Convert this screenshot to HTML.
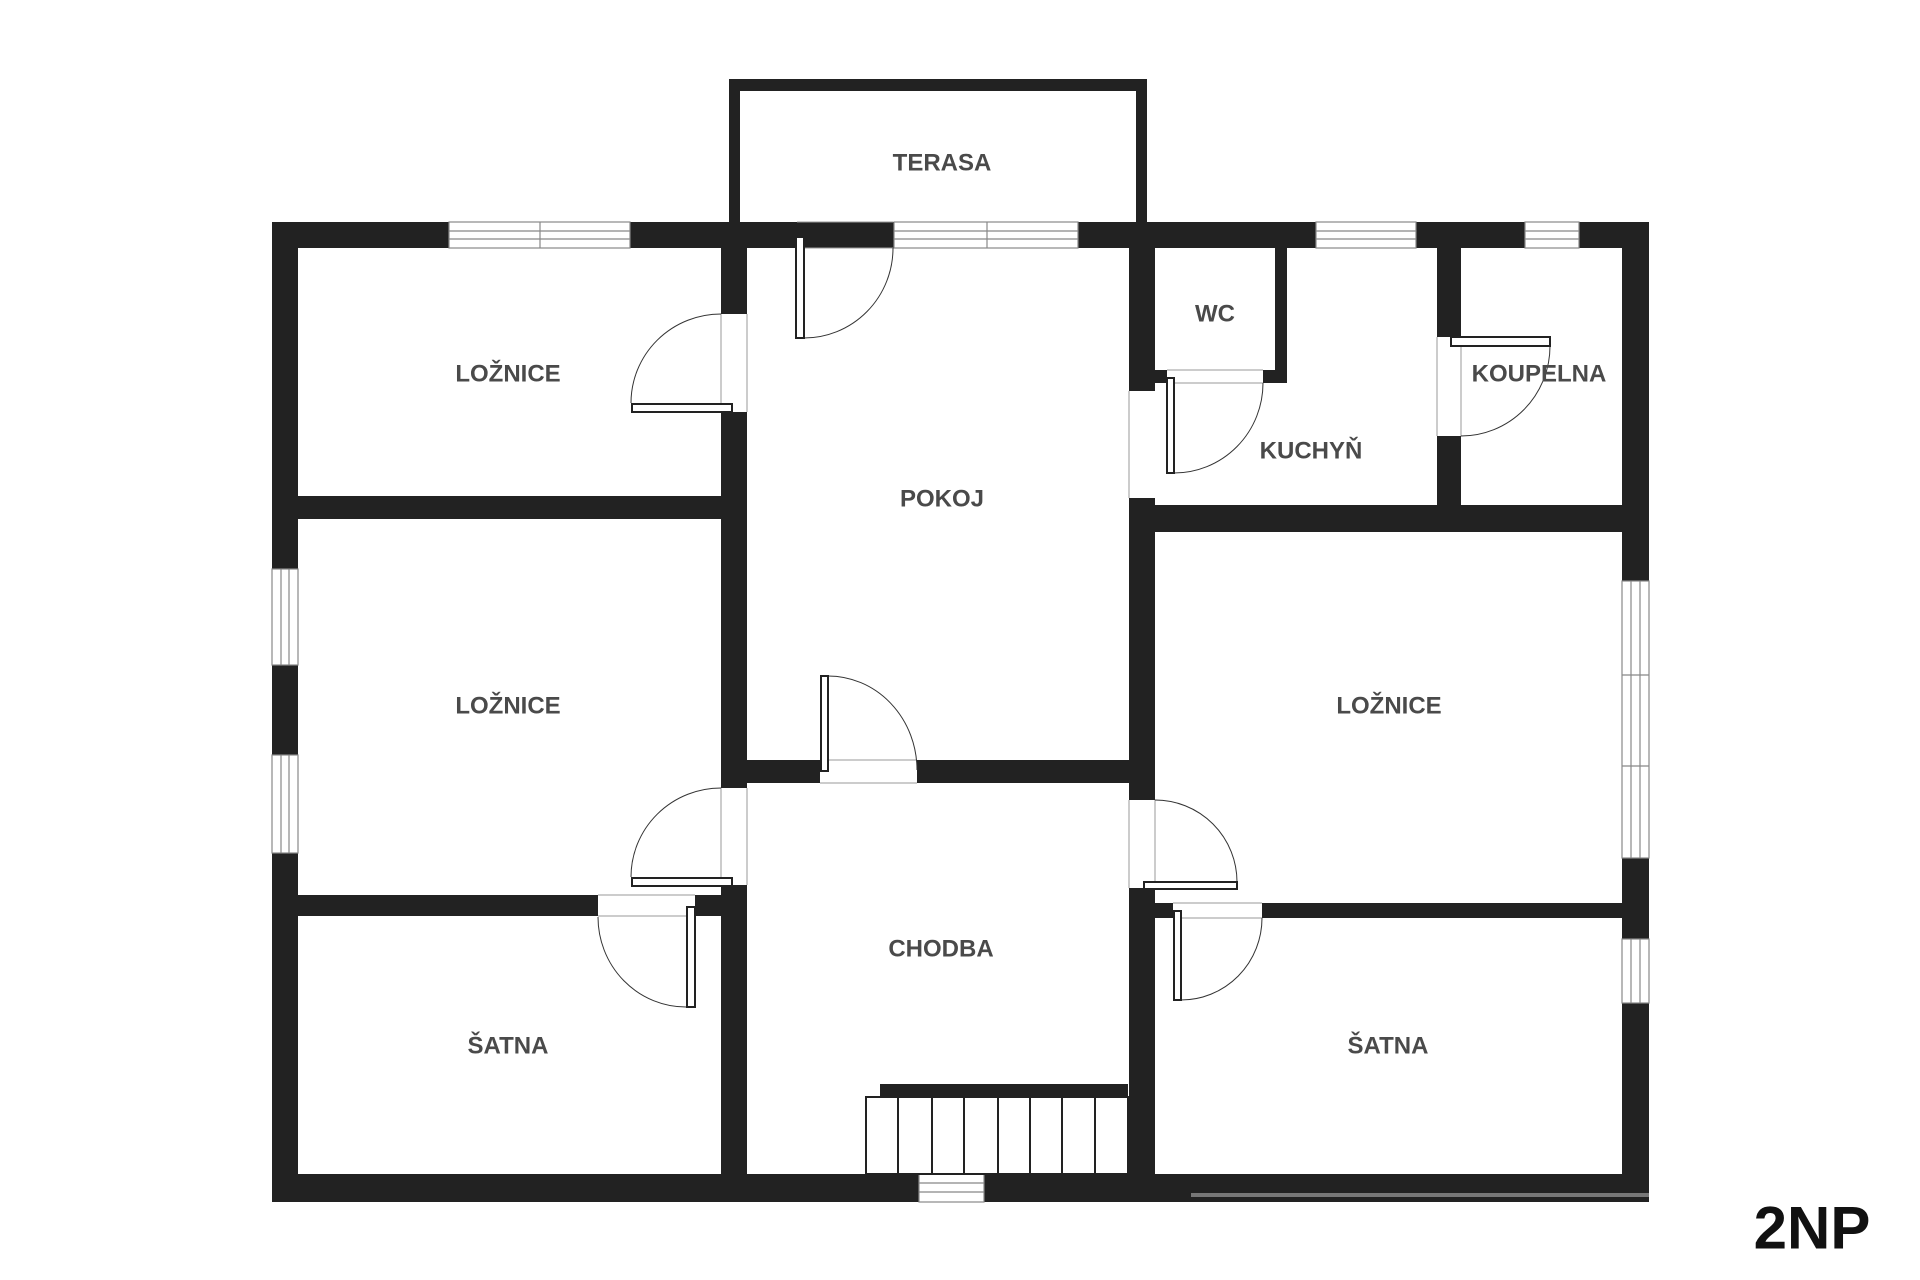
<!DOCTYPE html>
<html><head><meta charset="utf-8"><style>
html,body{margin:0;padding:0;background:#fff;width:1920px;height:1280px;overflow:hidden}
svg{display:block}
.l{font-family:"Liberation Sans",sans-serif;font-weight:bold;font-size:24px;fill:#4a4a4a;text-anchor:middle;dominant-baseline:central}
</style></head><body>
<svg width="1920" height="1280" viewBox="0 0 1920 1280" xmlns="http://www.w3.org/2000/svg">
<g fill="#222">
<rect x="729" y="79" width="418" height="12"/>
<rect x="729" y="79" width="11" height="150"/>
<rect x="1136" y="79" width="11" height="150"/>
<rect x="272" y="222" width="1377" height="26"/>
<rect x="272" y="1174" width="1377" height="28"/>
<rect x="272" y="222" width="26" height="980"/>
<rect x="1622" y="222" width="27" height="980"/>
<rect x="721" y="248" width="26" height="66"/>
<rect x="721" y="412" width="26" height="376"/>
<rect x="721" y="885" width="26" height="289"/>
<rect x="272" y="496" width="475" height="23"/>
<rect x="272" y="895" width="326" height="21"/>
<rect x="695" y="895" width="52" height="21"/>
<rect x="747" y="760" width="73" height="23"/>
<rect x="917" y="760" width="238" height="23"/>
<rect x="1129" y="248" width="26" height="143"/>
<rect x="1129" y="498" width="26" height="302"/>
<rect x="1129" y="888" width="26" height="286"/>
<rect x="1275" y="248" width="12" height="135"/>
<rect x="1155" y="370" width="12" height="13"/>
<rect x="1263" y="370" width="24" height="13"/>
<rect x="1129" y="505" width="520" height="27"/>
<rect x="1437" y="248" width="24" height="89"/>
<rect x="1437" y="436" width="24" height="69"/>
<rect x="1155" y="903" width="18" height="15"/>
<rect x="1262" y="903" width="387" height="15"/>
<rect x="880" y="1084" width="248" height="12"/>
</g>
<g fill="#fff" stroke="#888" stroke-width="1.2">
<rect x="449" y="222" width="181" height="26"/><line x1="540" y1="222" x2="540" y2="248"/><line x1="449" y1="231" x2="630" y2="231"/><line x1="449" y1="239" x2="630" y2="239"/>
<rect x="894" y="222" width="184" height="26"/><line x1="987" y1="222" x2="987" y2="248"/><line x1="894" y1="231" x2="1078" y2="231"/><line x1="894" y1="239" x2="1078" y2="239"/>
<rect x="1316" y="222" width="100" height="26"/><line x1="1316" y1="231" x2="1416" y2="231"/><line x1="1316" y1="239" x2="1416" y2="239"/>
<rect x="1525" y="222" width="54" height="26"/><line x1="1525" y1="231" x2="1579" y2="231"/><line x1="1525" y1="239" x2="1579" y2="239"/>
<rect x="919" y="1174" width="65" height="28"/><line x1="919" y1="1183" x2="984" y2="1183"/><line x1="919" y1="1192" x2="984" y2="1192"/>
<rect x="272" y="569" width="26" height="96"/><line x1="281" y1="569" x2="281" y2="665"/><line x1="289" y1="569" x2="289" y2="665"/>
<rect x="272" y="755" width="26" height="98"/><line x1="281" y1="755" x2="281" y2="853"/><line x1="289" y1="755" x2="289" y2="853"/>
<rect x="1622" y="581" width="27" height="277"/><line x1="1631" y1="581" x2="1631" y2="858"/><line x1="1640" y1="581" x2="1640" y2="858"/><line x1="1622" y1="675" x2="1649" y2="675"/><line x1="1622" y1="766" x2="1649" y2="766"/>
<rect x="1622" y="939" width="27" height="64"/><line x1="1631" y1="939" x2="1631" y2="1003"/><line x1="1640" y1="939" x2="1640" y2="1003"/>
</g>
<g stroke="#999" stroke-width="1" fill="none">
<line x1="797" y1="222" x2="893" y2="222"/><line x1="797" y1="248" x2="893" y2="248"/>
<line x1="721" y1="314" x2="721" y2="412"/><line x1="747" y1="314" x2="747" y2="412"/>
<line x1="721" y1="788" x2="721" y2="885"/><line x1="747" y1="788" x2="747" y2="885"/>
<line x1="598" y1="895" x2="695" y2="895"/><line x1="598" y1="916" x2="695" y2="916"/>
<line x1="820" y1="760" x2="917" y2="760"/><line x1="820" y1="783" x2="917" y2="783"/>
<line x1="1129" y1="800" x2="1129" y2="888"/><line x1="1155" y1="800" x2="1155" y2="888"/>
<line x1="1167" y1="370" x2="1263" y2="370"/><line x1="1167" y1="383" x2="1263" y2="383"/>
<line x1="1129" y1="391" x2="1129" y2="498"/>
<line x1="1437" y1="337" x2="1437" y2="436"/><line x1="1461" y1="337" x2="1461" y2="436"/>
<line x1="1173" y1="903" x2="1262" y2="903"/><line x1="1173" y1="918" x2="1262" y2="918"/>
</g>
<g stroke="#333" stroke-width="1" fill="none">
<path d="M804 338 A89 90 0 0 0 893 248"/>
<path d="M631 403 A90 89 0 0 1 721 314"/>
<path d="M631 877 A90 89 0 0 1 721 788"/>
<path d="M686 1007 A88 90 0 0 1 598 917"/>
<path d="M828 676 A89 94 0 0 1 917 770"/>
<path d="M1237 882 A82 82 0 0 0 1155 800"/>
<path d="M1174 473 A89 90 0 0 0 1263 383"/>
<path d="M1550 346 A89 90 0 0 1 1461 436"/>
<path d="M1181 1000 A81 82 0 0 0 1262 918"/>
</g>
<g fill="#fff" stroke="#222" stroke-width="2">
<rect x="796" y="237" width="8" height="101"/>
<rect x="632" y="404" width="100" height="8"/>
<rect x="632" y="878" width="100" height="8"/>
<rect x="687" y="907" width="8" height="100"/>
<rect x="821" y="676" width="7" height="95"/>
<rect x="1144" y="882" width="93" height="7"/>
<rect x="1167" y="378" width="7" height="95"/>
<rect x="1451" y="337" width="99" height="9"/>
<rect x="1174" y="911" width="7" height="89"/>
</g>
<g fill="#fff" stroke="#222" stroke-width="2">
<rect x="866" y="1097" width="262" height="77"/>
<line x1="898" y1="1097" x2="898" y2="1174"/><line x1="932" y1="1097" x2="932" y2="1174"/><line x1="964" y1="1097" x2="964" y2="1174"/><line x1="998" y1="1097" x2="998" y2="1174"/><line x1="1030" y1="1097" x2="1030" y2="1174"/><line x1="1062" y1="1097" x2="1062" y2="1174"/><line x1="1095" y1="1097" x2="1095" y2="1174"/>
</g>
<line x1="1191" y1="1195" x2="1649" y2="1195" stroke="#777" stroke-width="4"/>
<text class="l" x="942" y="163">TERASA</text>
<text class="l" x="508" y="374">LOŽNICE</text>
<text class="l" x="942" y="499">POKOJ</text>
<text class="l" x="1215" y="314">WC</text>
<text class="l" x="1539" y="374">KOUPELNA</text>
<text class="l" x="1311" y="451">KUCHYŇ</text>
<text class="l" x="508" y="706">LOŽNICE</text>
<text class="l" x="1389" y="706">LOŽNICE</text>
<text class="l" x="941" y="949">CHODBA</text>
<text class="l" x="508" y="1046">ŠATNA</text>
<text class="l" x="1388" y="1046">ŠATNA</text>
<text x="1812" y="1228" font-family="Liberation Sans,sans-serif" font-weight="bold" font-size="60" fill="#111" text-anchor="middle" dominant-baseline="central">2NP</text>
</svg>
</body></html>
